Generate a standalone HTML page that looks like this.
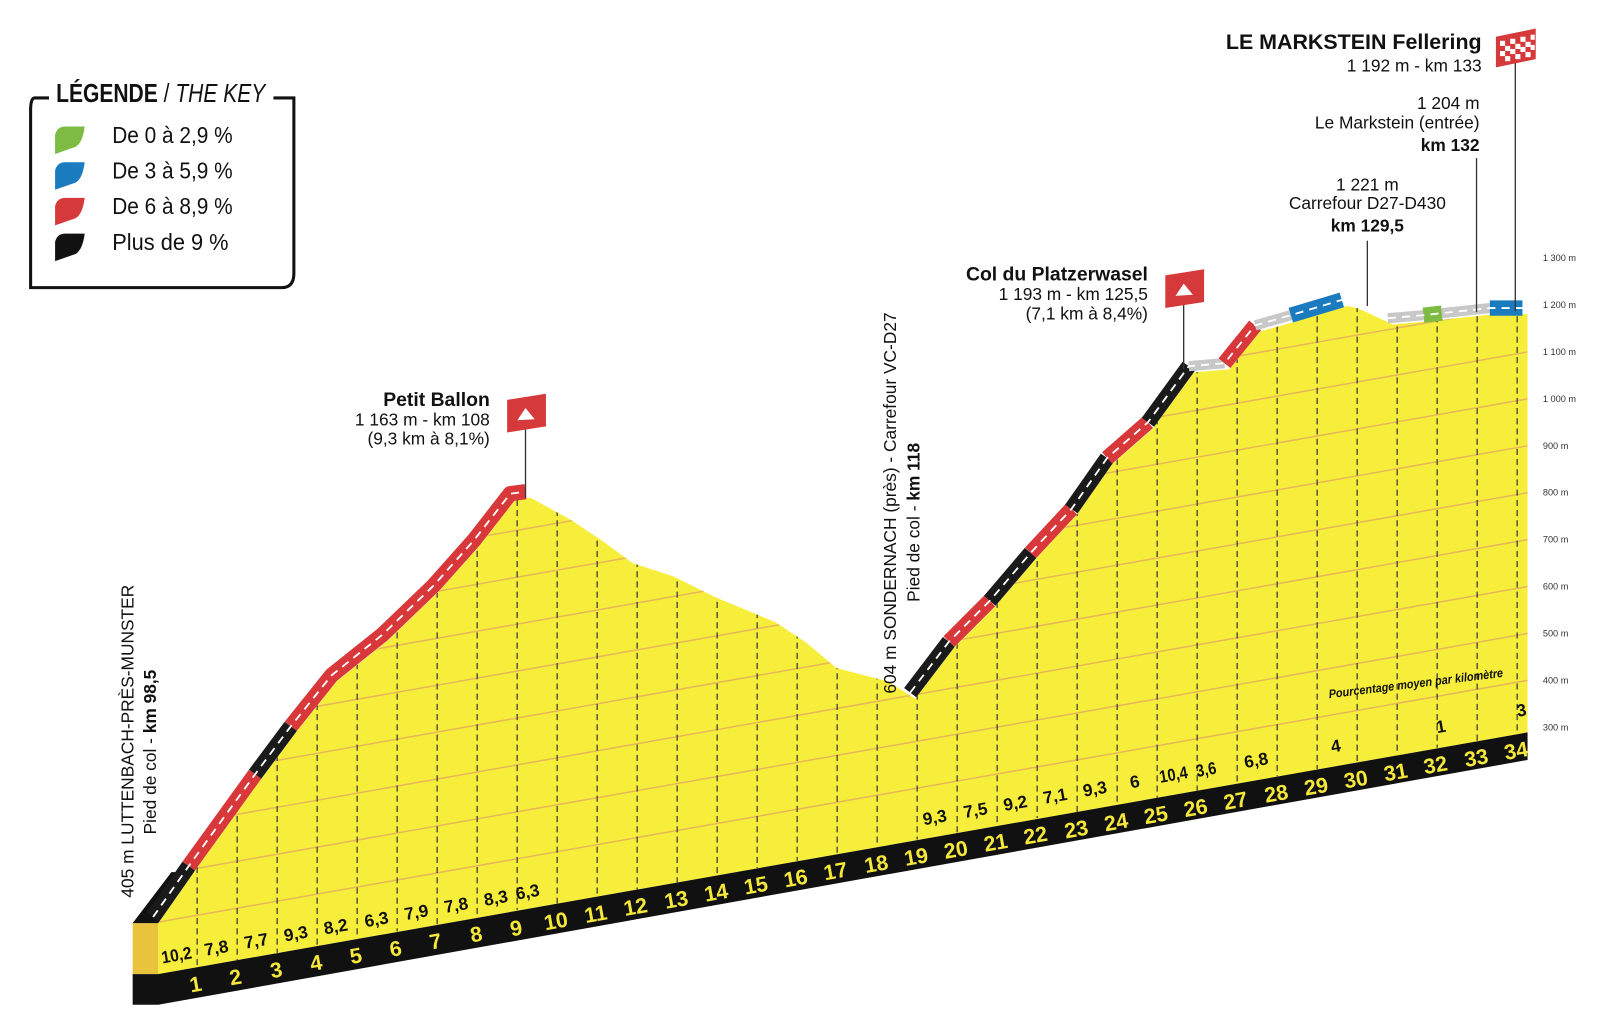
<!DOCTYPE html>
<html><head><meta charset="utf-8"><style>
html,body{margin:0;padding:0;background:#fff;}
svg{display:block;}
.km{font-family:"Liberation Sans Narrow","Liberation Sans",sans-serif;font-weight:bold;font-size:21px;fill:#f6e83a;text-anchor:middle;}
.pc{font-family:"Liberation Sans Narrow","Liberation Sans",sans-serif;font-weight:bold;font-size:17px;fill:#111;text-anchor:middle;}
.ax{font-family:"Liberation Sans",sans-serif;font-size:9px;fill:#333;}
.t{font-family:"Liberation Sans",sans-serif;font-size:17px;fill:#111;}
.b{font-weight:bold;}
.lg{font-family:"Liberation Sans Narrow","Liberation Sans",sans-serif;font-size:23px;fill:#111;}
</style></head><body>
<svg width="1600" height="1017" viewBox="0 0 1568 997" preserveAspectRatio="none" xmlns="http://www.w3.org/2000/svg">
<defs>
<clipPath id="cp"><polygon points="155,905 190,855 255,765 290,718 330,668 380,628 430,580 470,535 505,490 520,488 560,510 590,530 620,552 660,565 700,585 760,610 790,630 820,655 870,668 897,685 935,635 975,595 1015,548 1055,505 1090,455 1130,420 1170,365 1205,362 1235,325 1270,315 1320,300 1330,302 1365,318 1400,315 1418,313 1465,308 1497,308 1497,718 155,955"/></clipPath>
</defs>
<polygon fill="#f7ee3c" points="155,905 190,855 255,765 290,718 330,668 380,628 430,580 470,535 505,490 520,488 560,510 590,530 620,552 660,565 700,585 760,610 790,630 820,655 870,668 897,685 935,635 975,595 1015,548 1055,505 1090,455 1130,420 1170,365 1205,362 1235,325 1270,315 1320,300 1330,302 1365,318 1400,315 1418,313 1465,308 1497,308 1497,718 155,955"/>
<g clip-path="url(#cp)" stroke="#e7b857" stroke-width="1.5">
<line x1="155" y1="904" x2="1497" y2="667"/>
<line x1="155" y1="858" x2="1497" y2="621"/>
<line x1="155" y1="812" x2="1497" y2="575"/>
<line x1="155" y1="766" x2="1497" y2="529"/>
<line x1="155" y1="720" x2="1497" y2="483"/>
<line x1="155" y1="674" x2="1497" y2="437"/>
<line x1="155" y1="628" x2="1497" y2="391"/>
<line x1="155" y1="582" x2="1497" y2="345"/>
<line x1="155" y1="536" x2="1497" y2="299"/>
</g>
<g clip-path="url(#cp)" stroke="#333" stroke-width="1.2" stroke-dasharray="6,4">
<line x1="193.2" y1="280" x2="193.2" y2="948"/><line x1="232.4" y1="280" x2="232.4" y2="941"/><line x1="271.6" y1="280" x2="271.6" y2="934"/><line x1="310.8" y1="280" x2="310.8" y2="927"/><line x1="350" y1="280" x2="350" y2="920"/><line x1="389.2" y1="280" x2="389.2" y2="913"/><line x1="428.4" y1="280" x2="428.4" y2="906"/><line x1="467.6" y1="280" x2="467.6" y2="899"/><line x1="506.8" y1="280" x2="506.8" y2="892"/><line x1="546" y1="280" x2="546" y2="886"/><line x1="585.2" y1="280" x2="585.2" y2="879"/><line x1="624.4" y1="280" x2="624.4" y2="872"/><line x1="663.6" y1="280" x2="663.6" y2="865"/><line x1="702.8" y1="280" x2="702.8" y2="858"/><line x1="742" y1="280" x2="742" y2="851"/><line x1="781.2" y1="280" x2="781.2" y2="844"/><line x1="820.4" y1="280" x2="820.4" y2="837"/><line x1="859.6" y1="280" x2="859.6" y2="830"/><line x1="898.8" y1="280" x2="898.8" y2="823"/><line x1="938" y1="280" x2="938" y2="816"/><line x1="977.2" y1="280" x2="977.2" y2="809"/><line x1="1016.4" y1="280" x2="1016.4" y2="802"/><line x1="1055.6" y1="280" x2="1055.6" y2="796"/><line x1="1094.8" y1="280" x2="1094.8" y2="789"/><line x1="1134" y1="280" x2="1134" y2="782"/><line x1="1173.2" y1="280" x2="1173.2" y2="775"/><line x1="1212.4" y1="280" x2="1212.4" y2="768"/><line x1="1251.6" y1="280" x2="1251.6" y2="761"/><line x1="1290.8" y1="280" x2="1290.8" y2="754"/><line x1="1330" y1="280" x2="1330" y2="747"/><line x1="1369.2" y1="280" x2="1369.2" y2="740"/><line x1="1408.4" y1="280" x2="1408.4" y2="733"/><line x1="1447.6" y1="280" x2="1447.6" y2="726"/><line x1="1486.8" y1="280" x2="1486.8" y2="719"/>
</g>
<polygon fill="#eac33c" points="130,905 155,905 155,955 130,955"/>
<polygon fill="#111" points="130,955 155,955 1497,718 1497,745 155,985 130,985"/>
<polygon fill="#111" points="130,905 155,905 190,855 168,855"/>
<g fill="none" stroke-width="15" stroke-linejoin="round" transform="translate(-5,-6)">
<polyline stroke="#1a1a1a" points="155,905 190,855"/>
<polyline stroke="#d8383a" points="190,855 255,765"/>
<polyline stroke="#1a1a1a" points="255,765 290,718"/>
<polyline stroke="#d8383a" points="290,718 330,668 380,628 430,580 470,535 505,490 520,488"/>
<polyline stroke="#1a1a1a" points="897,685 935,635"/>
<polyline stroke="#d8383a" points="935,635 975,595"/>
<polyline stroke="#1a1a1a" points="975,595 1015,548"/>
<polyline stroke="#d8383a" points="1015,548 1055,505"/>
<polyline stroke="#1a1a1a" points="1055,505 1090,455"/>
<polyline stroke="#d8383a" points="1090,455 1130,420"/>
<polyline stroke="#1a1a1a" points="1130,420 1170,365"/>
<polyline stroke="#c8c8c8" stroke-width="10" points="1170,365 1205,362"/>
<polyline stroke="#d8383a" points="1205,362 1235,325"/>
<polyline stroke="#c8c8c8" stroke-width="10" points="1235,325 1270,315"/>
<polyline stroke="#1a7bbf" points="1270,315 1320,300"/>
<polyline stroke="#c8c8c8" stroke-width="10" points="1365,318 1400,315"/>
<polyline stroke="#7dbb42" points="1400,315 1418,313"/>
<polyline stroke="#c8c8c8" stroke-width="10" points="1418,313 1465,308"/>
<polyline stroke="#1a7bbf" points="1465,308 1497,308"/>
</g>
<g fill="none" stroke="#fff" stroke-width="1.8" stroke-dasharray="8,6" transform="translate(-5,-6)">
<polyline points="155,905 190,855 255,765 290,718 330,668 380,628 430,580 470,535 505,490 520,488"/>
<polyline points="897,685 935,635 975,595 1015,548 1055,505 1090,455 1130,420 1170,365 1205,362 1235,325 1270,315 1320,300"/>
<polyline points="1365,318 1400,315 1418,313 1465,308 1497,308"/>
</g>
<g class="km">
<text x="193" y="972" transform="rotate(-10 193 972)">1</text><text x="232" y="965" transform="rotate(-10 232 965)">2</text><text x="272" y="958" transform="rotate(-10 272 958)">3</text><text x="311" y="951" transform="rotate(-10 311 951)">4</text><text x="350" y="944" transform="rotate(-10 350 944)">5</text><text x="389" y="937" transform="rotate(-10 389 937)">6</text><text x="428" y="930" transform="rotate(-10 428 930)">7</text><text x="468" y="923" transform="rotate(-10 468 923)">8</text><text x="507" y="917" transform="rotate(-10 507 917)">9</text><text x="546" y="910" transform="rotate(-10 546 910)">10</text><text x="585" y="903" transform="rotate(-10 585 903)">11</text><text x="624" y="896" transform="rotate(-10 624 896)">12</text><text x="664" y="889" transform="rotate(-10 664 889)">13</text><text x="703" y="882" transform="rotate(-10 703 882)">14</text><text x="742" y="875" transform="rotate(-10 742 875)">15</text><text x="781" y="868" transform="rotate(-10 781 868)">16</text><text x="820" y="861" transform="rotate(-10 820 861)">17</text><text x="860" y="854" transform="rotate(-10 860 854)">18</text><text x="899" y="847" transform="rotate(-10 899 847)">19</text><text x="938" y="840" transform="rotate(-10 938 840)">20</text><text x="977" y="833" transform="rotate(-10 977 833)">21</text><text x="1016" y="826" transform="rotate(-10 1016 826)">22</text><text x="1056" y="820" transform="rotate(-10 1056 820)">23</text><text x="1095" y="813" transform="rotate(-10 1095 813)">24</text><text x="1134" y="806" transform="rotate(-10 1134 806)">25</text><text x="1173" y="799" transform="rotate(-10 1173 799)">26</text><text x="1212" y="792" transform="rotate(-10 1212 792)">27</text><text x="1252" y="785" transform="rotate(-10 1252 785)">28</text><text x="1291" y="778" transform="rotate(-10 1291 778)">29</text><text x="1330" y="771" transform="rotate(-10 1330 771)">30</text><text x="1369" y="764" transform="rotate(-10 1369 764)">31</text><text x="1408" y="757" transform="rotate(-10 1408 757)">32</text><text x="1448" y="750" transform="rotate(-10 1448 750)">33</text><text x="1487" y="743" transform="rotate(-10 1487 743)">34</text>
</g>
<g class="pc">
<text x="174" y="942" transform="rotate(-10 174 942)" textLength="30" lengthAdjust="spacingAndGlyphs">10,2</text><text x="213" y="935" transform="rotate(-10 213 935)">7,8</text><text x="252" y="928" transform="rotate(-10 252 928)">7,7</text><text x="291" y="921" transform="rotate(-10 291 921)">9,3</text><text x="330" y="914" transform="rotate(-10 330 914)">8,2</text><text x="370" y="907" transform="rotate(-10 370 907)">6,3</text><text x="409" y="900" transform="rotate(-10 409 900)">7,9</text><text x="448" y="893" transform="rotate(-10 448 893)">7,8</text><text x="487" y="886" transform="rotate(-10 487 886)">8,3</text><text x="518" y="880" transform="rotate(-10 518 880)">6,3</text>
<text x="917" y="807" transform="rotate(-10 917 807)">9,3</text><text x="957" y="800" transform="rotate(-10 957 800)">7,5</text><text x="996" y="793" transform="rotate(-10 996 793)">9,2</text><text x="1035" y="786" transform="rotate(-10 1035 786)">7,1</text><text x="1074" y="779" transform="rotate(-10 1074 779)">9,3</text><text x="1113" y="772" transform="rotate(-10 1113 772)">6</text><text x="1151" y="765" transform="rotate(-10 1151 765)" textLength="28" lengthAdjust="spacingAndGlyphs">10,4</text><text x="1183" y="760" transform="rotate(-10 1183 760)" textLength="20" lengthAdjust="spacingAndGlyphs">3,6</text><text x="1232" y="751" transform="rotate(-10 1232 751)">6,8</text><text x="1310" y="737" transform="rotate(-10 1310 737)">4</text><text x="1413" y="718" transform="rotate(-10 1413 718)">1</text><text x="1492" y="702" transform="rotate(-10 1492 702)">3</text>
</g>
<text x="1388" y="674" transform="rotate(-7 1388 674)" textLength="172" lengthAdjust="spacingAndGlyphs" style="font-family:'Liberation Sans Narrow','Liberation Sans',sans-serif;font-size:12px;font-weight:bold;font-style:italic;fill:#111;text-anchor:middle">Pourcentage moyen par kilomètre</text>
<g class="ax">
<text x="1512" y="256">1 300 m</text><text x="1512" y="302">1 200 m</text><text x="1512" y="348">1 100 m</text><text x="1512" y="394">1 000 m</text><text x="1512" y="440">900 m</text><text x="1512" y="486">800 m</text><text x="1512" y="532">700 m</text><text x="1512" y="578">600 m</text><text x="1512" y="624">500 m</text><text x="1512" y="670">400 m</text><text x="1512" y="716">300 m</text>
</g>
<g stroke="#333" stroke-width="1.3">
<line x1="515" y1="420" x2="515" y2="488"/>
<line x1="1160" y1="298" x2="1160" y2="362"/>
<line x1="1340" y1="236" x2="1340" y2="300"/>
<line x1="1447" y1="155" x2="1447" y2="306"/>
<line x1="1485" y1="60" x2="1485" y2="305"/>
</g>
<path d="M497,392 L535,386 L535,418 L497,424 Z" fill="#d6393a"/>
<path d="M507,412 L515,400 L524,411 Z" fill="#fff"/>
<path d="M1142,270 L1180,264 L1180,296 L1142,302 Z" fill="#d6393a"/>
<path d="M1152,290 L1160,278 L1169,289 Z" fill="#fff"/>
<g>
<path d="M1466,36 L1505,28 L1505,58 L1466,66 Z" fill="#d6393a"/>
<g fill="#fff">
<rect x="1470" y="40" width="5" height="5"/><rect x="1480" y="38" width="5" height="5"/><rect x="1490" y="36" width="5" height="5"/><rect x="1500" y="34" width="4" height="5"/>
<rect x="1475" y="45" width="5" height="5"/><rect x="1485" y="43" width="5" height="5"/><rect x="1495" y="41" width="5" height="5"/>
<rect x="1470" y="50" width="5" height="5"/><rect x="1480" y="48" width="5" height="5"/><rect x="1490" y="46" width="5" height="5"/><rect x="1500" y="44" width="4" height="5"/>
<rect x="1475" y="55" width="5" height="5"/><rect x="1485" y="53" width="5" height="5"/><rect x="1495" y="51" width="5" height="5"/>
</g>
</g>
<g class="t" text-anchor="end">
<text x="480" y="398" class="b" style="font-size:19px">Petit Ballon</text>
<text x="480" y="417">1 163 m - km 108</text>
<text x="480" y="436">(9,3 km à 8,1%)</text>
<text x="1125" y="275" class="b" style="font-size:19px">Col du Platzerwasel</text>
<text x="1125" y="294">1 193 m - km 125,5</text>
<text x="1125" y="313">(7,1 km à 8,4%)</text>
<text x="1450" y="107">1 204 m</text>
<text x="1450" y="126">Le Markstein (entrée)</text>
<text x="1450" y="148" class="b">km 132</text>
<text x="1452" y="48" class="b" style="font-size:21px">LE MARKSTEIN Fellering</text>
<text x="1452" y="70">1 192 m - km 133</text>
</g>
<g class="t" text-anchor="middle">
<text x="1340" y="187">1 221 m</text>
<text x="1340" y="205">Carrefour D27-D430</text>
<text x="1340" y="227" class="b">km 129,5</text>
</g>
<g class="t">
<text transform="translate(131,880) rotate(-90)">405 m LUTTENBACH-PRÈS-MUNSTER</text>
<text transform="translate(153,818) rotate(-90)">Pied de col - <tspan class="b">km 98,5</tspan></text>
<text transform="translate(878,680) rotate(-90)">604 m SONDERNACH (près)  -  Carrefour VC-D27</text>
<text transform="translate(901,590) rotate(-90)">Pied de col - <tspan class="b">km 118</tspan></text>
</g>
<path d="M48,96 L34,96 Q30,96 30,108 L30,282 L276,282 Q288,282 288,268 L288,96 L268,96" fill="none" stroke="#111" stroke-width="3"/>
<text x="55" y="100" class="lg" textLength="205" lengthAdjust="spacingAndGlyphs" style="font-weight:bold;font-size:25px">LÉGENDE <tspan style="font-weight:normal">/</tspan> <tspan style="font-weight:normal;font-style:italic">THE KEY</tspan></text>
<path d="M54,132 Q56,124 64,124 L83,124 Q81,140 74,144 L54,151 Z" fill="#7dbb42"/>
<path d="M54,167 Q56,159 64,159 L83,159 Q81,175 74,179 L54,186 Z" fill="#1a7bbf"/>
<path d="M54,202 Q56,194 64,194 L83,194 Q81,210 74,214 L54,221 Z" fill="#d6393a"/>
<path d="M54,237 Q56,229 64,229 L83,229 Q81,245 74,249 L54,256 Z" fill="#111"/>
<text x="110" y="140" class="lg" textLength="118" lengthAdjust="spacingAndGlyphs">De 0 à 2,9 %</text>
<text x="110" y="175" class="lg" textLength="118" lengthAdjust="spacingAndGlyphs">De 3 à 5,9 %</text>
<text x="110" y="210" class="lg" textLength="118" lengthAdjust="spacingAndGlyphs">De 6 à 8,9 %</text>
<text x="110" y="245" class="lg" textLength="114" lengthAdjust="spacingAndGlyphs">Plus de 9 %</text>
</svg>
</body></html>
